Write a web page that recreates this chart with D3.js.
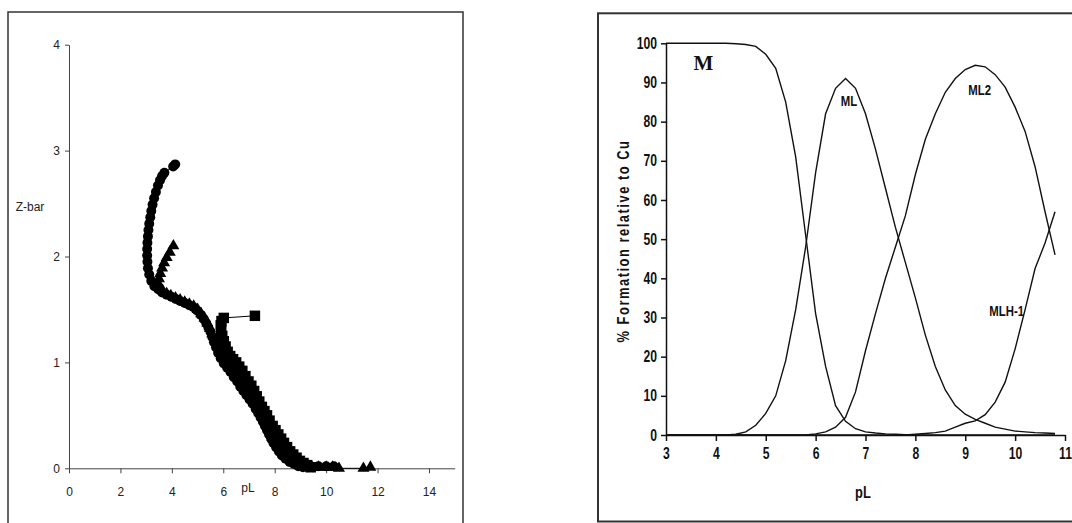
<!DOCTYPE html>
<html lang="en">
<head>
<meta charset="UTF-8">
<title>Z-bar and species distribution</title>
<script src="https://cdn.jsdelivr.net/npm/d3@7/dist/d3.min.js"></script>
<style>
    body { margin: 0; background: #fff; }
    svg { display: block; }
    .left text { font-family: "Liberation Sans", Arial, sans-serif; font-size: 12px; fill: #222; }
    .right text { font-family: "Liberation Sans", Arial, sans-serif; font-weight: bold; fill: #111; }
</style>
</head>
<body>
<script>
    // ---- left chart: Z-bar vs pL (three titration runs) ----
    var zTicksX = [0, 2, 4, 6, 8, 10, 12, 14];
    var zTicksY = [0, 1, 2, 3, 4];

    var runCircles = [
        [4.13, 2.87], [4.05, 2.85], [3.71, 2.79], [3.62, 2.76], [3.54, 2.72], [3.46, 2.67],
        [3.38, 2.61], [3.31, 2.55], [3.25, 2.49], [3.20, 2.43], [3.16, 2.37], [3.12, 2.31],
        [3.09, 2.25], [3.07, 2.19], [3.05, 2.13], [3.04, 2.07], [3.04, 2.01], [3.05, 1.95],
        [3.07, 1.89], [3.12, 1.83], [3.20, 1.77], [3.32, 1.72], [3.47, 1.69], [3.62, 1.66],
        [3.80, 1.64], [3.98, 1.62], [4.15, 1.60], [4.32, 1.58], [4.50, 1.56], [4.68, 1.54],
        [4.84, 1.52], [4.98, 1.49], [5.12, 1.45], [5.24, 1.41], [5.34, 1.37], [5.42, 1.33],
        [5.50, 1.29], [5.57, 1.24], [5.64, 1.19], [5.72, 1.14], [5.80, 1.09], [5.90, 1.04],
        [6.02, 0.99], [6.15, 0.95], [6.28, 0.91], [6.41, 0.86], [6.54, 0.82], [6.66, 0.77],
        [6.78, 0.73], [6.90, 0.69], [7.02, 0.65], [7.14, 0.61], [7.26, 0.56], [7.36, 0.52],
        [7.45, 0.48], [7.54, 0.44], [7.62, 0.40], [7.70, 0.36], [7.78, 0.32], [7.86, 0.28],
        [7.95, 0.24], [8.05, 0.20], [8.16, 0.16], [8.28, 0.12], [8.42, 0.09], [8.58, 0.06],
        [8.75, 0.04], [8.92, 0.02], [9.10, 0.01], [9.30, 0.01], [9.50, 0.01], [9.70, 0.02],
        [10.0, 0.02], [10.3, 0.02]
    ];

    var runTriangles = [
        [4.06, 2.10], [3.92, 2.04], [3.80, 1.99], [3.70, 1.94], [3.62, 1.89], [3.55, 1.84],
        [3.50, 1.79], [3.46, 1.75], [3.52, 1.71], [3.64, 1.68], [3.80, 1.65], [3.96, 1.63],
        [4.14, 1.61], [4.32, 1.59], [4.50, 1.57], [4.68, 1.55], [4.85, 1.53], [5.00, 1.50],
        [5.14, 1.46], [5.27, 1.42], [5.38, 1.37], [5.48, 1.32], [5.57, 1.27], [5.66, 1.22],
        [5.75, 1.17], [5.85, 1.12], [5.96, 1.07], [6.08, 1.02], [6.22, 0.98], [6.36, 0.94],
        [6.50, 0.89], [6.63, 0.85], [6.76, 0.80], [6.89, 0.76], [7.01, 0.71], [7.13, 0.67],
        [7.25, 0.62], [7.36, 0.58], [7.46, 0.53], [7.56, 0.49], [7.65, 0.45], [7.74, 0.41],
        [7.83, 0.37], [7.92, 0.33], [8.01, 0.29], [8.11, 0.25], [8.22, 0.21], [8.34, 0.17],
        [8.47, 0.13], [8.61, 0.10], [8.76, 0.07], [8.92, 0.05], [9.08, 0.03], [9.26, 0.02],
        [9.45, 0.01], [9.70, 0.01], [10.0, 0.01], [10.25, 0.01], [10.5, 0.00], [11.45, 0.00],
        [11.72, 0.01]
    ];

    var runSquares = [
        [7.23, 1.44], [6.02, 1.42], [5.93, 1.39], [5.90, 1.35], [5.92, 1.30], [5.96, 1.25],
        [6.02, 1.20], [6.09, 1.15], [6.17, 1.10], [6.27, 1.06], [6.38, 1.03], [6.50, 1.00],
        [6.62, 0.96], [6.74, 0.92], [6.86, 0.87], [6.98, 0.82], [7.09, 0.78], [7.20, 0.73],
        [7.30, 0.68], [7.40, 0.63], [7.50, 0.58], [7.60, 0.54], [7.70, 0.50], [7.80, 0.45],
        [7.92, 0.40], [8.03, 0.36], [8.14, 0.32], [8.25, 0.28], [8.36, 0.24], [8.48, 0.20],
        [8.60, 0.16], [8.72, 0.13], [8.85, 0.10], [8.98, 0.07], [9.12, 0.05], [9.26, 0.03],
        [9.40, 0.01]
    ];

    // ---- right chart: % formation relative to Cu vs pL ----
    var pLGrid = [3.0, 3.2, 3.4, 3.6, 3.8, 4.0, 4.2, 4.4, 4.6, 4.8, 5.0, 5.2, 5.4, 5.6, 5.8, 6.0,
        6.2, 6.4, 6.6, 6.8, 7.0, 7.2, 7.4, 7.6, 7.8, 8.0, 8.2, 8.4, 8.6, 8.8, 9.0, 9.2, 9.4,
        9.6, 9.8, 10.0, 10.2, 10.4, 10.6, 10.8];
    var pctM = [100, 100, 100, 100, 100, 100, 100, 99.9, 99.7, 99.2, 97.2, 93.6, 85, 71, 51, 31,
        17.5, 7.5, 3.5, 1.6, 0.8, 0.5, 0.3, 0.2, 0.1, 0, 0, 0, 0, 0, 0, 0, 0,
        0, 0, 0, 0, 0, 0, 0];
    var pctML = [0, 0, 0, 0, 0, 0, 0, 0.2, 0.8, 2.5, 5.5, 10, 19, 32, 48, 67,
        82, 88.5, 91, 88.5, 82, 73, 63, 53, 44, 35, 25.5, 17.5, 11.5, 7.5, 5.3, 4.0, 3.0,
        2.0, 1.5, 1.0, 0.8, 0.6, 0.5, 0.4];
    var pctML2 = [0, 0, 0, 0, 0, 0, 0, 0, 0, 0, 0, 0, 0, 0, 0, 0.3,
        0.8, 2.0, 4.5, 11, 21.5, 31, 40, 48, 56, 66.5, 75.5, 82, 87.5, 91, 93.3, 94.4, 94.0,
        92, 88.8, 83.7, 77.5, 68.5, 57, 46];
    var pctMLH = [0, 0, 0, 0, 0, 0, 0, 0, 0, 0, 0, 0, 0, 0, 0, 0,
        0, 0, 0, 0, 0, 0, 0, 0, 0, 0.2, 0.4, 0.6, 1.0, 2.0, 3.0, 3.6, 5.2,
        8.4, 13.5, 22, 32, 42.5, 49, 57];
    var pctTicksY = [0, 10, 20, 30, 40, 50, 60, 70, 80, 90, 100];
    var pLTicks = [3, 4, 5, 6, 7, 8, 9, 10, 11];
    var speciesLabels = [
        {text: "M", pL: 3.75, pct: 94.9, serif: true},
        {text: "ML", pL: 6.67, pct: 85.3},
        {text: "ML2", pL: 9.29, pct: 88.0},
        {text: "MLH-1", pL: 9.83, pct: 31.8}
    ];

    var squeeze = 0.76;   // the right panel's lettering is very narrow

    var svg = d3.select("body").append("svg")
        .attr("width", 1072)
        .attr("height", 523);

    // ================= left chart =================
    var left = svg.append("g").attr("class", "left");

    left.append("rect")
        .attr("x", 8).attr("y", 12)
        .attr("width", 455).attr("height", 530)
        .attr("fill", "none")
        .attr("stroke", "#333")
        .attr("stroke-width", 1.5);

    var xZ = d3.scaleLinear().domain([0, 15]).range([69, 454.7]);
    var yZ = d3.scaleLinear().domain([0, 4]).range([468.3, 44.7]);

    var xAxisZ = left.append("g")
        .attr("transform", "translate(0," + yZ(0) + ")")
        .call(d3.axisBottom(xZ).tickValues(zTicksX).tickFormat(d3.format("d"))
            .tickSize(5).tickSizeOuter(0).tickPadding(14));
    var yAxisZ = left.append("g")
        .attr("transform", "translate(" + xZ(0) + ",0)")
        .call(d3.axisLeft(yZ).tickValues(zTicksY).tickFormat(d3.format("d"))
            .tickSize(4).tickSizeOuter(0).tickPadding(5));
    [xAxisZ, yAxisZ].forEach(function (a) {
        a.select(".domain").attr("stroke", "#444");
        a.selectAll(".tick line").attr("stroke", "#444");
    });

    left.append("text").attr("x", 30).attr("y", 211).attr("text-anchor", "middle").text("Z-bar");
    left.append("text").attr("x", 248).attr("y", 492).attr("text-anchor", "middle").text("pL");

    var lineZ = d3.line()
        .x(function (d) { return xZ(d[0]); })
        .y(function (d) { return yZ(d[1]); });

    var runs = [
        {data: runCircles, symbol: d3.symbolCircle, size: 78},
        {data: runTriangles, symbol: d3.symbolTriangle, size: 62},
        {data: runSquares, symbol: d3.symbolSquare, size: 110}
    ];

    runs.forEach(function (run) {
        left.append("path")
            .attr("d", lineZ(run.data))
            .attr("fill", "none")
            .attr("stroke", "#000")
            .attr("stroke-width", 1);
    });
    runs.forEach(function (run) {
        left.selectAll(null)
            .data(run.data)
            .enter()
            .append("path")
            .attr("d", d3.symbol().type(run.symbol).size(run.size))
            .attr("transform", function (d) {
                return "translate(" + xZ(d[0]) + "," + yZ(d[1]) + ")";
            })
            .attr("fill", "#000");
    });

    // ================= right chart =================
    var right = svg.append("g").attr("class", "right");

    right.append("rect")
        .attr("x", 598).attr("y", 13.3)
        .attr("width", 500).attr("height", 508.2)
        .attr("fill", "none")
        .attr("stroke", "#333")
        .attr("stroke-width", 2);

    var xP = d3.scaleLinear().domain([3, 11]).range([666, 1065]);
    var yP = d3.scaleLinear().domain([0, 100]).range([435, 43.3]);

    var xAxisP = right.append("g")
        .attr("transform", "translate(0," + yP(0) + ")")
        .call(d3.axisBottom(xP).tickValues(pLTicks).tickSize(6).tickSizeOuter(0).tickPadding(7));
    var yAxisP = right.append("g")
        .attr("transform", "translate(" + xP(3) + ",0)")
        .call(d3.axisLeft(yP).tickValues(pctTicksY).tickSize(5).tickSizeOuter(0).tickPadding(4));
    [xAxisP, yAxisP].forEach(function (a) {
        a.select(".domain").attr("stroke", "#111").attr("stroke-width", 1.5);
        a.selectAll(".tick line").attr("stroke", "#111").attr("stroke-width", 1.5);
        a.selectAll("text")
            .attr("font-size", "16px")
            .attr("transform", "scale(" + squeeze + ",1)");
    });
    yAxisP.selectAll(".tick text").attr("x", -9 / squeeze);

    right.append("text")
        .attr("transform", "translate(623,241) rotate(-90) scale(" + squeeze + ",1)")
        .attr("text-anchor", "middle")
        .attr("dominant-baseline", "central")
        .attr("font-size", "17px")
        .attr("letter-spacing", "2px")
        .text("% Formation relative to Cu");

    right.append("text")
        .attr("transform", "translate(863,498) scale(" + squeeze + ",1)")
        .attr("text-anchor", "middle")
        .attr("font-size", "17px")
        .text("pL");

    var species = [pctM, pctML, pctML2, pctMLH];
    var lineP = d3.line()
        .x(function (d, i) { return xP(pLGrid[i]); })
        .y(function (d) { return yP(d); });

    right.selectAll(".curve")
        .data(species)
        .enter()
        .append("path")
        .attr("class", "curve")
        .attr("d", function (d) { return lineP(d); })
        .attr("fill", "none")
        .attr("stroke", "#111")
        .attr("stroke-width", 1.4);

    right.selectAll(".species")
        .data(speciesLabels)
        .enter()
        .append("text")
        .attr("class", "species")
        .attr("transform", function (d) {
            var s = d.serif ? 1 : squeeze;
            return "translate(" + xP(d.pL) + "," + yP(d.pct) + ") scale(" + s + ",1)";
        })
        .attr("text-anchor", "middle")
        .attr("dominant-baseline", "central")
        .attr("font-size", function (d) { return d.serif ? "21px" : "15px"; })
        .style("font-family", function (d) { return d.serif ? "'Liberation Serif', 'Times New Roman', serif" : null; })
        .text(function (d) { return d.text; });
</script>
</body>
</html>
